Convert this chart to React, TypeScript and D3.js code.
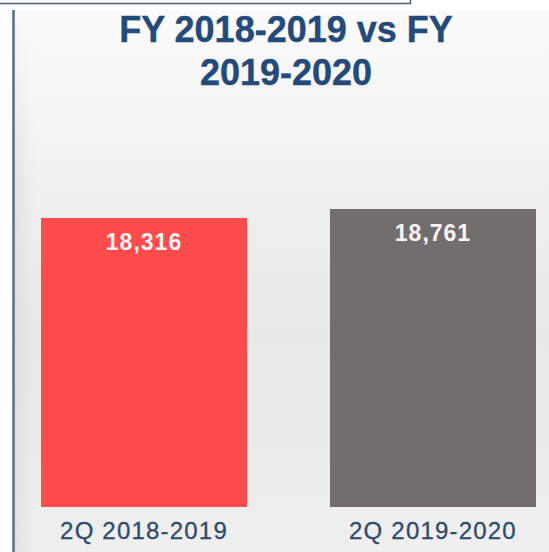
import React, { useEffect, useRef } from "react";
import * as d3 from "d3";

const categories = ["2Q 2018-2019", "2Q 2019-2020"];
const values = [18316, 18761];
const barColors = ["#ff4b4b", "#736e6e"];
const titleLines = ["FY 2018-2019 vs FY", "2019-2020"];

const App = () => {
  const chart = useRef<SVGSVGElement>(null);

  useEffect(() => {
    const width = 549;
    const height = 552;
    const svg = d3.select(chart.current).attr("width", width).attr("height", height);
    svg.selectAll("*").remove();

    const defs = svg.append("defs");
    const bg = defs.append("linearGradient").attr("id", "bg").attr("x1", 0).attr("y1", 0).attr("x2", 0).attr("y2", 1);
    bg.append("stop").attr("offset", "0%").attr("stop-color", "#fbfbfb");
    bg.append("stop").attr("offset", "30%").attr("stop-color", "#f1f1f1");
    bg.append("stop").attr("offset", "60%").attr("stop-color", "#e9e9e9");
    bg.append("stop").attr("offset", "100%").attr("stop-color", "#efefef");

    const side = defs.append("linearGradient").attr("id", "side").attr("x1", 0).attr("y1", 0).attr("x2", 1).attr("y2", 0);
    side.append("stop").attr("offset", "0%").attr("stop-color", "#cfcfcf").attr("stop-opacity", 0.55);
    side.append("stop").attr("offset", "100%").attr("stop-color", "#e9e9e9").attr("stop-opacity", 0);

    const fade = defs.append("linearGradient").attr("id", "fade").attr("x1", 0).attr("y1", 0).attr("x2", 0).attr("y2", 1);
    fade.append("stop").attr("offset", "0%").attr("stop-color", "#fff").attr("stop-opacity", 0);
    fade.append("stop").attr("offset", "40%").attr("stop-color", "#fff").attr("stop-opacity", 1);
    fade.append("stop").attr("offset", "100%").attr("stop-color", "#fff").attr("stop-opacity", 1);
    defs.append("mask").attr("id", "sideMask")
      .append("rect").attr("x", 0).attr("y", 0).attr("width", width).attr("height", height).attr("fill", "url(#fade)");

    svg.append("rect").attr("width", width).attr("height", height).attr("fill", "#ffffff");
    svg.append("rect").attr("x", 14).attr("y", 10).attr("width", width - 14).attr("height", height - 10).attr("fill", "url(#bg)");
    svg.append("rect").attr("x", 14).attr("y", 10).attr("width", 22).attr("height", height - 10)
      .attr("fill", "url(#side)").attr("mask", "url(#sideMask)");

    // frame pieces
    svg.append("path").attr("d", "M0,3.5H410.5V0").attr("fill", "none").attr("stroke", "#4d6184").attr("stroke-width", 1.5);
    svg.append("line").attr("x1", 13.5).attr("x2", 13.5).attr("y1", 10).attr("y2", height)
      .attr("stroke", "#5b6b86").attr("stroke-width", 2.5);

    // title
    svg.append("g")
      .selectAll("text")
      .data(titleLines)
      .join("text")
        .attr("x", 286)
        .attr("y", (d, i) => 42 + i * 43)
        .attr("text-anchor", "middle")
        .attr("font-family", "Liberation Sans, Arial, sans-serif")
        .attr("font-weight", "bold")
        .attr("font-size", 36)
        .attr("fill", "#244a7a")
        .attr("stroke", "#244a7a")
        .attr("stroke-width", 0.4)
        .text(d => d);

    const x = d3.scaleBand<string>()
      .domain(categories)
      .range([41, 536])
      .paddingInner(0.287)
      .paddingOuter(0);

    const y = d3.scaleLinear()
      .domain([4000, 20000])
      .range([507, 184]);

    svg.append("g")
      .selectAll("rect")
      .data(values)
      .join("rect")
        .attr("x", (d, i) => x(categories[i])!)
        .attr("y", d => y(d))
        .attr("width", x.bandwidth())
        .attr("height", d => y(4000) - y(d))
        .attr("fill", (d, i) => barColors[i]);

    svg.append("g")
      .selectAll("text")
      .data(values)
      .join("text")
        .attr("x", (d, i) => x(categories[i])! + x.bandwidth() / 2)
        .attr("y", d => y(d) + 32)
        .attr("text-anchor", "middle")
        .attr("font-family", "Liberation Sans, Arial, sans-serif")
        .attr("font-weight", "bold")
        .attr("font-size", 23)
        .attr("letter-spacing", 1)
        .attr("fill", "#fbf3f3")
        .text(d => d3.format(",")(d));

    svg.append("g")
      .selectAll("text")
      .data(categories)
      .join("text")
        .attr("x", d => x(d)! + x.bandwidth() / 2)
        .attr("y", 539)
        .attr("text-anchor", "middle")
        .attr("font-family", "Liberation Sans, Arial, sans-serif")
        .attr("font-size", 24)
        .attr("letter-spacing", 1.2)
        .attr("fill", "#2e4a6c")
        .attr("stroke", "#2e4a6c")
        .attr("stroke-width", 0.3)
        .text(d => d);
  }, []);

  return (
    <div style={{ position: "absolute", left: 0, top: 0 }}>
      <svg ref={chart} style={{ display: "block" }} />
    </div>
  );
};

export default App;
